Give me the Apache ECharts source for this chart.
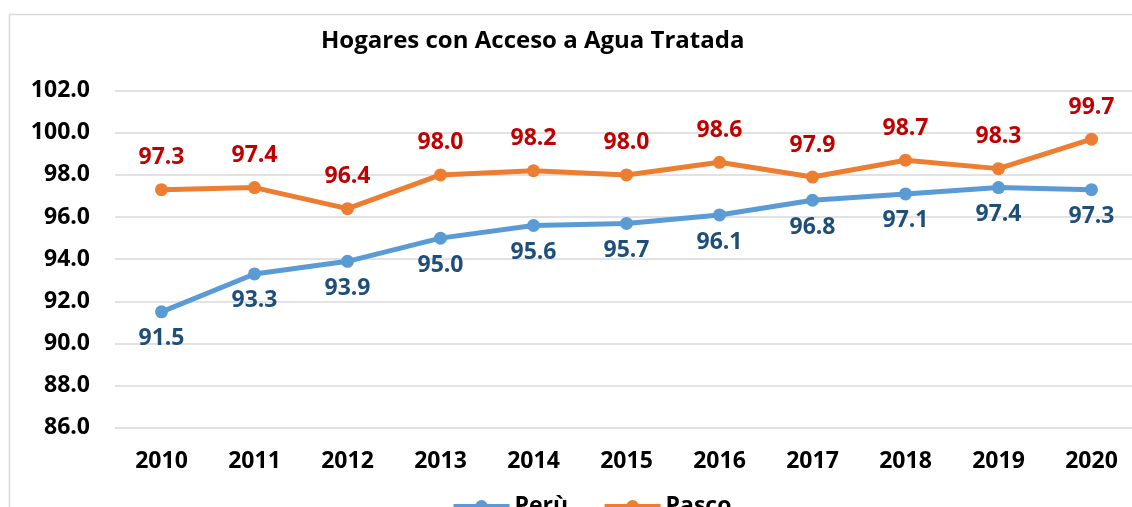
<!DOCTYPE html>
<html>
<head>
<meta charset="utf-8">
<script src="https://cdn.jsdelivr.net/npm/echarts@6/dist/echarts.min.js"></script>
<style>
  html, body { margin: 0; padding: 0; background: #fff; }
  #chart { width: 1132px; height: 507px; }
</style>
</head>
<body>
<div id="chart"></div>
<script>
// data
const years = ['2010', '2011', '2012', '2013', '2014', '2015', '2016', '2017', '2018', '2019', '2020'];
const peru = [91.5, 93.3, 93.9, 95.0, 95.6, 95.7, 96.1, 96.8, 97.1, 97.4, 97.3];
const pasco = [97.3, 97.4, 96.4, 98.0, 98.2, 98.0, 98.6, 97.9, 98.7, 98.3, 99.7];

const font = '"Open Sans", "Noto Sans", sans-serif';
const chart = echarts.init(document.getElementById('chart'));

const option = {
  animation: false,
  backgroundColor: '#fff',
  title: {
    text: 'Hogares con Acceso a Agua Tratada',
    left: 316,
    top: 24,
    textStyle: { fontFamily: font, fontWeight: 'bold', fontSize: 24, color: '#000' }
  },
  graphic: [{
    type: 'rect',
    shape: { x: 9.5, y: 14.5, width: 1200, height: 600 },
    style: { fill: 'none', stroke: '#d9d9d9', lineWidth: 1.5 },
    silent: true
  }],
  legend: {
    data: ['Perù', 'Pasco'],
    left: 446,
    top: 490,
    itemWidth: 56,
    itemHeight: 16,
    itemGap: 34,
    lineStyle: { width: 5 },
    textStyle: { fontFamily: font, fontWeight: 'bold', fontSize: 23, color: '#000' }
  },
  grid: {
    left: 115,
    top: 90.7,
    width: 1023,
    height: 337,
    outerBoundsMode: 'none'
  },
  xAxis: {
    type: 'category',
    data: years,
    boundaryGap: true,
    axisLine: { show: false },
    axisTick: { show: false },
    axisLabel: { margin: 22, fontFamily: font, fontWeight: 'bold', fontSize: 23, color: '#000' }
  },
  yAxis: {
    type: 'value',
    min: 86,
    max: 102,
    interval: 2,
    axisLine: { show: false },
    axisTick: { show: false },
    splitLine: { lineStyle: { color: '#d9d9d9', width: 1.5 } },
    axisLabel: {
      margin: 25,
      fontFamily: font, fontWeight: 'bold', fontSize: 23, color: '#000',
      formatter: v => v.toFixed(1)
    }
  },
  series: [
    {
      name: 'Perù',
      type: 'line',
      data: peru,
      symbol: 'circle',
      symbolSize: 13,
      itemStyle: { color: '#5B9BD5' },
      lineStyle: { width: 5, color: '#5B9BD5' },
      label: {
        show: true,
        position: 'bottom',
        distance: 9,
        formatter: p => p.value.toFixed(1),
        fontFamily: font, fontWeight: 'bold', fontSize: 23, color: '#1F4E79'
      }
    },
    {
      name: 'Pasco',
      type: 'line',
      data: pasco,
      symbol: 'circle',
      symbolSize: 13,
      itemStyle: { color: '#ED7D31' },
      lineStyle: { width: 5, color: '#ED7D31' },
      label: {
        show: true,
        position: 'top',
        distance: 14,
        formatter: p => p.value.toFixed(1),
        fontFamily: font, fontWeight: 'bold', fontSize: 23, color: '#C00000'
      }
    }
  ]
};

chart.setOption(option);
</script>
</body>
</html>
